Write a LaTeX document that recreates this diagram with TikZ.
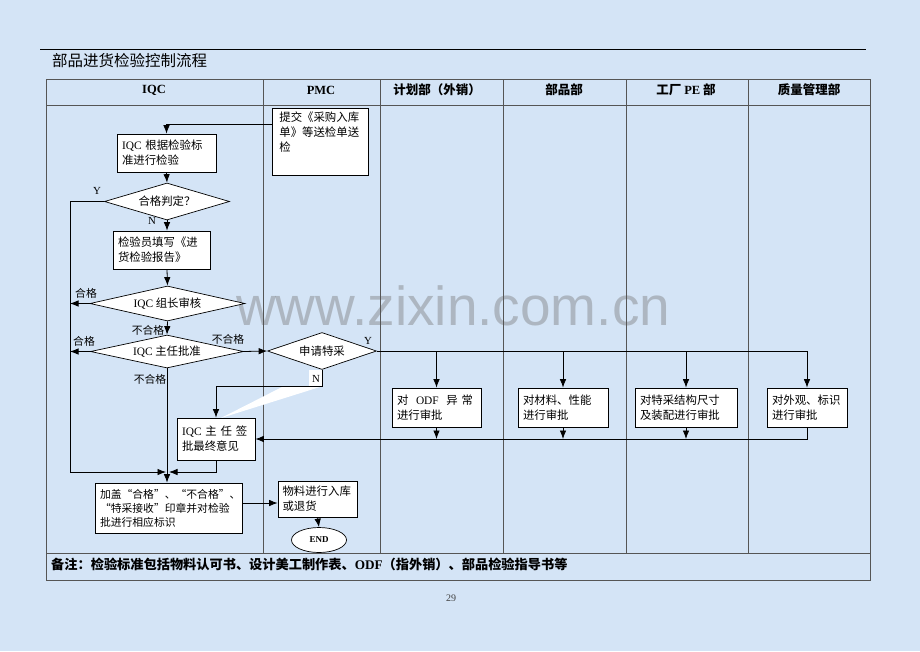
\documentclass[tikz,border=0pt]{standalone}
\usepackage{fontspec}
\setmainfont{Noto Sans CJK SC}
\newfontfamily\lat{Liberation Serif}
\newfontfamily\wmfont{Liberation Sans}
\usetikzlibrary{shapes.geometric,arrows.meta,calc}
\definecolor{bgblue}{RGB}{212,228,246}
\definecolor{rulegray}{RGB}{85,85,85}
\begin{document}
\begin{tikzpicture}[x=1pt,y=-1pt,
  every node/.style={font=\fontsize{11.4}{15}\selectfont},
  proc/.style={draw=black,line width=0.7pt,fill=white,rectangle,align=left,inner xsep=5pt,inner ysep=0pt},
  dec/.style={draw=black,line width=0.7pt,fill=white,diamond,inner sep=0pt},
  conn/.style={line width=0.8pt,draw=black},
  arr/.style={conn,-{Latex[length=8.5pt,width=6.5pt]}},
  lbl/.style={inner sep=0.5pt,font=\fontsize{10.8}{12}\selectfont},
  hdr/.style={font=\fontsize{12.5}{14}\selectfont\bfseries},
  tline/.style={draw=rulegray,line width=0.8pt}
]
\useasboundingbox (0,0) rectangle (920,651);
\fill[bgblue] (0,0) rectangle (920,651);
% watermark
\node[anchor=base west, inner sep=0pt, font=\wmfont\fontsize{55}{60}\selectfont, text=black!55, text opacity=0.4] (wm) at (236,325) {www.zixin.com.cn};
% title and rule
\node[anchor=west, inner sep=0pt, font=\fontsize{15.5}{18}\selectfont] (title) at (52,61) {部品进货检验控制流程};
\draw[line width=0.8pt] (40,49) -- (866,49);
% table
\draw[tline] (46,79) rectangle (870,580);
\draw[tline] (46,105) -- (870,105);
\draw[tline] (46,553) -- (870,553);
\foreach \x in {263,380,503,626,748} \draw[tline] (\x,79) -- (\x,553);
% headers
\node[hdr] (hIQC) at (154,90) {\lat IQC};
\node[hdr] (hPMC) at (321,90) {\lat PMC};
\node[hdr] (hPlan) at (437,90) {计划部（外销）};
\node[hdr] (hParts) at (564,90) {部品部};
\node[hdr] (hPE) at (686,90) {工厂 {\lat PE} 部};
\node[hdr] (hQM) at (809,90) {质量管理部};
% white artefact
\fill[white] (323,386) -- (284,386) -- (221,418) -- cycle;
\fill[white] (309,370) rectangle (323,386);
% nodes
\node[proc, anchor=north west, inner xsep=7pt] (pmc) at (272,108) {\parbox[t][67pt][t]{82pt}{\vspace*{3pt}提交《采购入库\\单》等送检单送\\检}};
\node[proc, text width=89pt, minimum height=38pt] (iqc1) at (166.5,153) {{\lat IQC} 根据检验标\\准进行检验};
\node[dec, aspect=3.4, minimum width=125pt, minimum height=37pt] (d1) at (167,201.5) {合格判定？};
\node[proc, text width=87pt, minimum height=38pt] (box2) at (161.5,250) {检验员填写《进\\货检验报告》};
\node[dec, aspect=4.4, minimum width=155pt, minimum height=35pt] (d2) at (167.5,303.5) {{\lat IQC} 组长审核};
\node[dec, aspect=4.6, minimum width=153pt, minimum height=33pt] (d3) at (167,351.5) {{\lat IQC} 主任批准};
\node[dec, aspect=2.9, minimum width=109pt, minimum height=37pt] (sq) at (322,351) {申请特采};
\node[proc, text width=79pt, minimum height=39pt] (r1) at (436.5,407.5) {对\ \ {\lat ODF}\ \ 异\ 常\\进行审批};
\node[proc, text width=80pt, minimum height=39pt] (r2) at (563,407.5) {对材料、性能\\进行审批};
\node[proc, text width=92pt, minimum height=39pt] (r3) at (686,407.5) {对特采结构尺寸\\及装配进行审批};
\node[proc, text width=70pt, minimum height=39pt] (r4) at (807,407.5) {对外观、标识\\进行审批};
\node[proc, text width=68pt, minimum height=42pt] (iqc2) at (216,439) {{\lat IQC} 主 任 签\\批最终意见};
\node[proc, text width=137pt, minimum height=50pt, font=\fontsize{10.8}{14}\selectfont] (stamp) at (168.5,508) {加盖“合格”、“不合格”、\\“特采接收”印章并对检验\\批进行相应标识};
\node[proc, text width=70pt, inner xsep=4.5pt, minimum height=36pt] (mat) at (317.5,499) {物料进行入库\\或退货};
\node[draw, ellipse, fill=white, line width=0.7pt, minimum width=55pt, minimum height=25pt, inner sep=0pt, font=\lat\bfseries\fontsize{9}{10}\selectfont] (end) at (319,540) {END};
% coordinates
\coordinate (busTop) at (70,201.5);
\coordinate (busBot) at (70,472);
\coordinate (mergeL) at (166,472);
\coordinate (mergeR) at (169,472);
\coordinate (nTurn) at (0,386);
\coordinate (sm) at (0,503);
\coordinate (pmcOut) at (0,124);
% connectors
\draw[arr] (pmc.west |- pmcOut) -| (iqc1.north);
\draw[arr] (iqc1.south) -- (d1.north);
\draw[arr] (d1.west) -- (busTop) -- (busBot) -- (mergeL);
\draw[arr] (d1.south) -- (d1.south |- box2.north);
\draw[arr] (d1.south |- box2.south) -- (d2.north);
\draw[arr] (d2.west) -- (d2.west -| busTop);
\draw[arr] (d2.south) -- (d3.north);
\draw[arr] (d3.west) -- (d3.west -| busTop);
\draw[arr] (d3.east) -- (sq.west);
\draw[arr] (d3.south) -- (d3.south |- stamp.north);
\draw[conn] (sq.east) -- (sq.east -| r4.north);
\foreach \r in {r1,r2,r3,r4} \draw[arr] (sq.east -| \r.north) -- (\r.north);
\foreach \r in {r1,r2,r3} \draw[arr] (\r.south) -- (\r.south |- iqc2.east);
\draw[arr] (r4.south) -- (r4.south |- iqc2.east) -- (iqc2.east);
\draw[arr] (sq.south) -- (sq.south |- nTurn) -| (iqc2.north);
\draw[arr] (iqc2.south) -- (iqc2.south |- mergeR) -- (mergeR);
\draw[arr] (stamp.east |- sm) -- (mat.west |- sm);
\draw[arr] (mat.south) -- (end.north);
% labels
\node[lbl] (lY1) at (97,191) {\lat Y};
\node[lbl] (lN1) at (152,221) {\lat N};
\node[lbl] (lOk1) at (86,293) {合格};
\node[lbl] (lNg1) at (148,330) {不合格};
\node[lbl] (lOk2) at (84,341) {合格};
\node[lbl] (lNg2) at (228,339) {不合格};
\node[lbl] (lNg3) at (150,379) {不合格};
\node[lbl] (lY2) at (368,341) {\lat Y};
\node[lbl] (lN2) at (316,379) {\lat N};
% note and page number
\node[anchor=west, inner sep=0pt, font=\fontsize{13.2}{15}\selectfont\bfseries] (note) at (51,564) {备注：检验标准包括物料认可书、设计美工制作表、{\lat ODF}（指外销）、部品检验指导书等};
\node[font=\lat\fontsize{10}{12}\selectfont, text=black!75] (pg) at (451,598) {29};
\end{tikzpicture}
\end{document}
